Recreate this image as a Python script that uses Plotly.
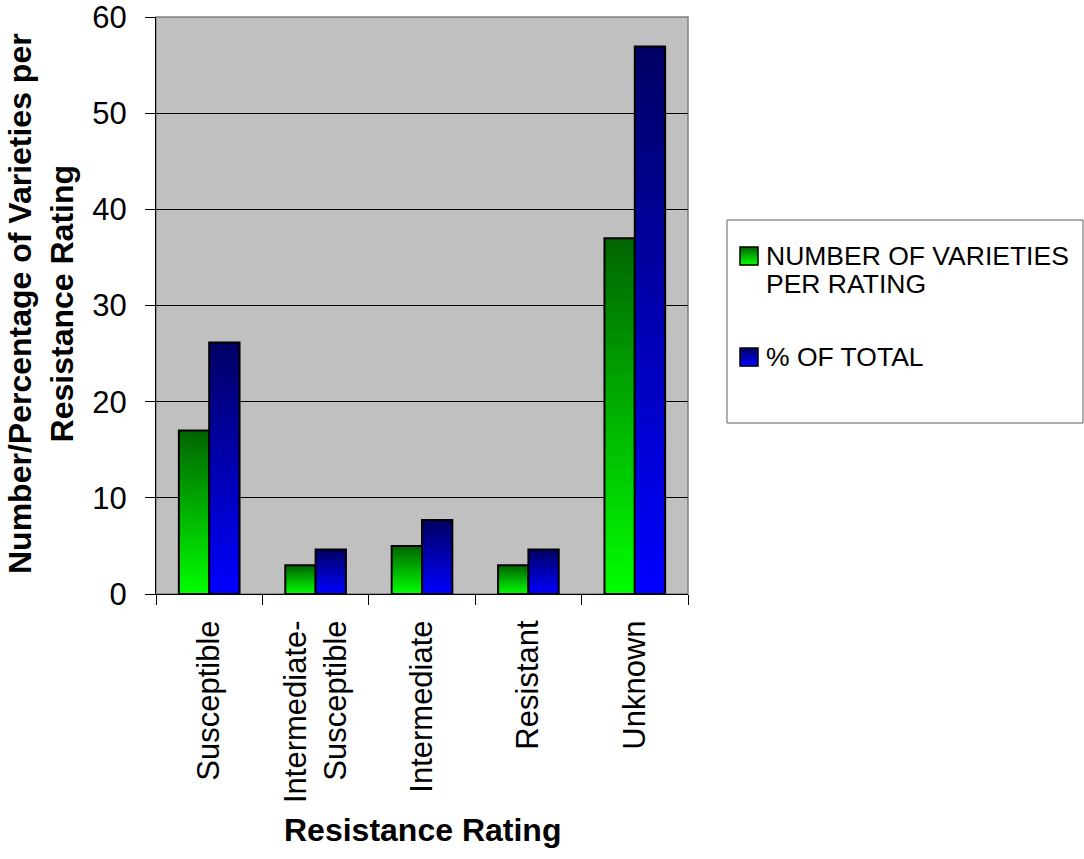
import plotly.graph_objects as go

categories = ["Susceptible", "Intermediate-<br>Susceptible", "Intermediate", "Resistant", "Unknown"]
number_per_rating = [17, 3, 5, 3, 37]
pct_of_total = [26.15, 4.62, 7.69, 4.62, 56.92]
series_names = [["NUMBER OF VARIETIES", "PER RATING"], ["% OF TOTAL"]]
y_ticks = [0, 10, 20, 30, 40, 50, 60]

FONT = "Arial, Liberation Sans, sans-serif"
N = 60
OVERLAP = 0.15
green_top, green_bot = (0, 100, 0), (0, 255, 0)
blue_top, blue_bot = (0, 0, 100), (0, 0, 255)

# plot-area pixel geometry for helper conversions
PX0, PX1, PY0, PY1 = 156, 688, 17, 594


def px(X):
    return (X - PX0) / (PX1 - PX0)


def py(Y):
    return (PY1 - Y) / (PY1 - PY0)


def interp(c_bot, c_top, t):
    return "rgb(%d,%d,%d)" % tuple(round(b + (a - b) * t) for a, b in zip(c_top, c_bot))


fig = go.Figure()
series = [
    (number_per_rating, green_bot, green_top, "g"),
    (pct_of_total, blue_bot, blue_top, "b"),
]
for vals, cb, ct, grp in series:
    for i in range(N):
        bases = [v * i / N for v in vals]
        heights = [min(v / N + OVERLAP, v - b) for v, b in zip(vals, bases)]
        fig.add_trace(go.Bar(
            x=categories, y=heights, base=bases,
            offsetgroup=grp, marker=dict(color=interp(cb, ct, (i + 0.5) / N), line=dict(width=0)),
            showlegend=False, hoverinfo="skip"))
    fig.add_trace(go.Bar(
        x=categories, y=vals, offsetgroup=grp,
        marker=dict(color="rgba(0,0,0,0)", line=dict(color="black", width=2)),
        showlegend=False))

shapes = [
    dict(type="rect", xref="paper", yref="paper", x0=0, x1=1, y0=0, y1=1,
         line=dict(color="#808080", width=1.5), layer="below"),
    dict(type="rect", xref="paper", yref="paper", x0=px(727), x1=px(1083),
         y0=py(423), y1=py(220), line=dict(color="#606060", width=1)),
]
annotations = []

# legend (manual): gradient squares + text
legend_rows = [
    (247, (green_bot, green_top), series_names[0]),
    (348, (blue_bot, blue_top), series_names[1]),
]
SQ = 18
for top, (cb, ct), lines in legend_rows:
    for k in range(SQ):
        t = 1 - (k + 0.5) / SQ
        shapes.append(dict(type="rect", xref="paper", yref="paper",
                           x0=px(740), x1=px(740 + SQ), y0=py(top + k + 1.4), y1=py(top + k),
                           fillcolor=interp(cb, ct, t), line=dict(width=0)))
    shapes.append(dict(type="rect", xref="paper", yref="paper",
                       x0=px(740), x1=px(740 + SQ), y0=py(top + SQ), y1=py(top),
                       line=dict(color="black", width=1.5)))
    for j, line in enumerate(lines):
        annotations.append(dict(text=line, xref="paper", yref="paper", x=px(764),
                                y=py(top + SQ / 2 + j * 28), xanchor="left", yanchor="middle",
                                showarrow=False, font=dict(size=26.5, family=FONT, color="black")))

annotations.append(dict(text="<b>Number/Percentage of Varieties per<br>Resistance Rating</b>",
                        xref="paper", yref="paper", x=px(41), y=py(304), textangle=-90,
                        xanchor="center", yanchor="middle", showarrow=False,
                        font=dict(size=32, family=FONT, color="black")))
annotations.append(dict(text="<b>Resistance Rating</b>", xref="paper", yref="paper",
                        x=px(422), y=py(830), xanchor="center", yanchor="middle",
                        showarrow=False, font=dict(size=32, family=FONT, color="black")))

fig.update_layout(
    width=1084, height=859,
    margin=dict(l=156, r=396, t=17, b=265),
    paper_bgcolor="white", plot_bgcolor="#C0C0C0",
    barmode="group", bargap=0.43, bargroupgap=0,
    font=dict(family=FONT, size=31, color="black"),
    showlegend=False,
    xaxis=dict(showline=True, linecolor="black", linewidth=1, ticks="outside",
               tickson="boundaries", ticklen=10, tickcolor="black", tickangle=-90,
               tickfont=dict(size=31), showgrid=False, automargin=False,
               ticklabelstandoff=13, ticklabeloverflow="allow"),
    yaxis=dict(range=[0, 60], tickvals=y_ticks, showline=True, linecolor="black", linewidth=1,
               ticks="outside", ticklen=10, tickcolor="black", showgrid=True, gridcolor="black",
               gridwidth=1, zeroline=False, tickfont=dict(size=31), automargin=False,
               ticklabelstandoff=12, ticklabeloverflow="allow"),
    shapes=shapes,
    annotations=annotations,
)

fig.write_html("out.html", config={"displayModeBar": False},
               post_script="document.body.style.margin='0';")
